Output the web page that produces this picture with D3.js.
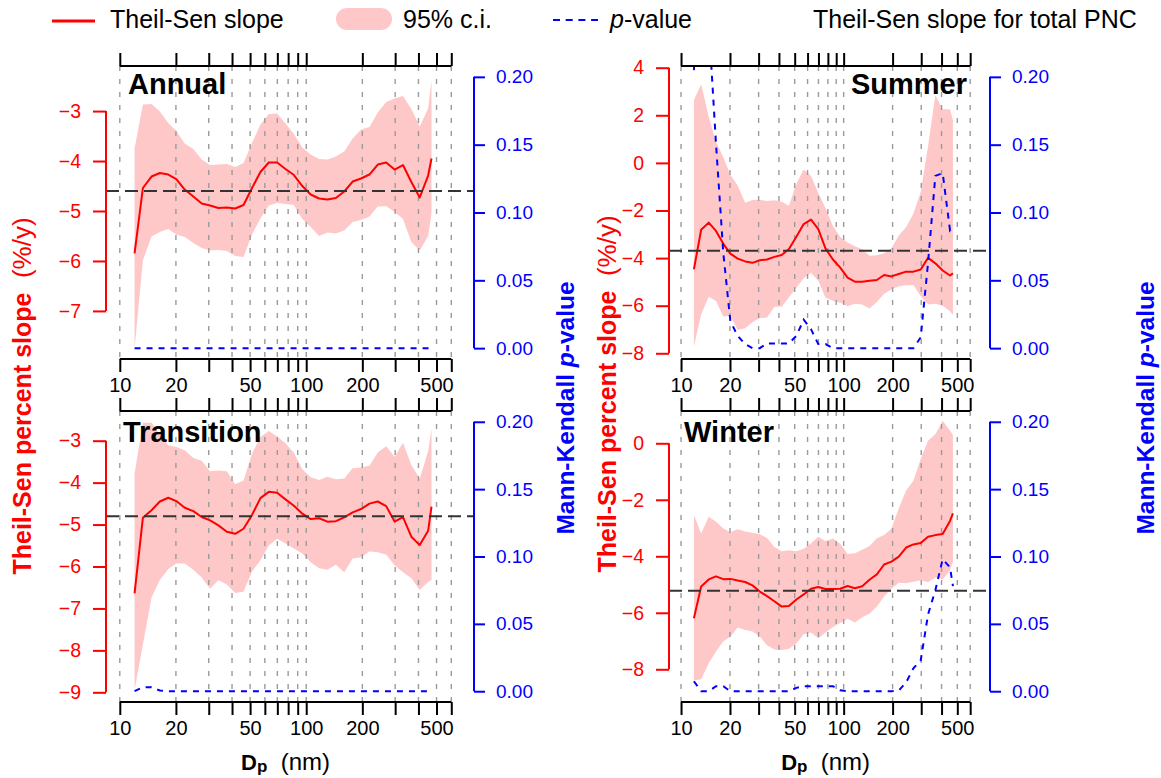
<!DOCTYPE html>
<html>
<head>
<meta charset="utf-8">
<script src="https://cdn.jsdelivr.net/npm/d3@7"></script>
<style>
  body { margin: 0; background: #fff; }
  svg { display: block; font-family: "Liberation Sans", Arial, Helvetica, sans-serif; }
  text { white-space: pre; }
</style>
</head>
<body>
<script>
// Particle diameter bins (nm)
const dp = [12, 13.3, 14.8, 16.4, 18.2, 20.1, 22.3, 24.8, 27.5, 30.5, 33.8, 37.5, 41.6, 46.1, 51.2, 56.8, 63, 69.8, 77.4, 85.9, 95.3, 105.7, 117.2, 130, 144.2, 160, 177.4, 196.8, 218.3, 242.1, 268.5, 297.9, 330.4, 366.4, 406.4, 450.8, 470];

// Annual
const annualSlope = [-5.85, -4.54, -4.31, -4.24, -4.27, -4.36, -4.57, -4.71, -4.85, -4.89, -4.94, -4.93, -4.95, -4.88, -4.54, -4.22, -4.03, -4.03, -4.16, -4.28, -4.50, -4.67, -4.75, -4.77, -4.74, -4.61, -4.41, -4.35, -4.27, -4.07, -4.03, -4.17, -4.08, -4.42, -4.73, -4.29, -3.95];
const annualHi = [-3.75, -2.87, -2.86, -3.01, -3.24, -3.40, -3.65, -3.76, -3.97, -4.08, -4.07, -4.06, -4.12, -4.04, -3.64, -3.27, -3.06, -3.05, -3.25, -3.46, -3.73, -3.87, -3.96, -3.97, -3.91, -3.81, -3.55, -3.37, -3.32, -3.03, -2.82, -2.75, -2.70, -2.96, -3.31, -2.95, -2.38];
const annualLo = [-7.75, -5.99, -5.51, -5.42, -5.36, -5.47, -5.52, -5.64, -5.74, -5.79, -5.78, -5.80, -5.90, -5.92, -5.47, -5.15, -4.89, -4.84, -4.86, -4.88, -5.16, -5.32, -5.50, -5.43, -5.45, -5.39, -5.22, -5.18, -5.11, -4.91, -4.90, -5.02, -5.16, -5.62, -5.79, -5.50, -5.05];
const annualP = [0, 0, 0, 0, 0, 0, 0, 0, 0, 0, 0, 0, 0, 0, 0, 0, 0, 0, 0, 0, 0, 0, 0, 0, 0, 0, 0, 0, 0, 0, 0, 0, 0, 0, 0, 0, 0];

// Summer
const summerSlope = [-4.47, -2.81, -2.51, -2.86, -3.40, -3.81, -4.02, -4.14, -4.20, -4.09, -4.06, -3.95, -3.87, -3.62, -3.10, -2.57, -2.38, -2.78, -3.60, -4.06, -4.40, -4.82, -4.99, -4.99, -4.95, -4.92, -4.71, -4.77, -4.67, -4.57, -4.57, -4.48, -3.99, -4.22, -4.52, -4.73, -4.64];
const summerHi = [2.64, 3.30, 1.94, 0.89, 0.24, -0.50, -0.95, -1.68, -1.56, -1.55, -1.60, -1.57, -1.63, -1.80, -0.88, -0.28, -0.55, -1.27, -1.90, -2.65, -3.11, -3.34, -3.50, -3.63, -3.90, -3.88, -3.80, -3.59, -3.05, -2.70, -2.13, -1.22, 0.70, 2.85, 2.25, 2.25, 1.80];
const summerLo = [-7.72, -6.36, -5.62, -5.80, -6.45, -6.42, -7.02, -6.95, -6.70, -6.52, -6.50, -6.04, -6.04, -5.65, -5.25, -4.85, -4.62, -4.95, -5.67, -5.79, -5.88, -6.02, -5.92, -5.95, -6.12, -5.85, -5.50, -5.32, -5.18, -5.14, -5.13, -5.60, -5.95, -5.92, -6.00, -6.23, -6.39];
const summerP = [0.205, 0.30, 0.24, 0.151, 0.07, 0.020, 0.009, 0.003, 0, 0, 0.0035, 0.0035, 0.0035, 0.0035, 0.009, 0.021, 0.014, 0.003, 0.003, 0, 0, 0, 0, 0, 0, 0, 0, 0, 0, 0, 0, 0.008, 0.063, 0.127, 0.129, 0.087, 0.09];

// Transition
const transitionSlope = [-6.64, -4.84, -4.66, -4.45, -4.36, -4.44, -4.60, -4.68, -4.82, -4.90, -5.02, -5.17, -5.22, -5.10, -4.77, -4.37, -4.22, -4.24, -4.40, -4.55, -4.74, -4.87, -4.85, -4.93, -4.92, -4.83, -4.71, -4.63, -4.50, -4.45, -4.56, -4.93, -4.82, -5.29, -5.49, -5.15, -4.57];
const transitionHi = [-3.78, -2.57, -2.57, -2.85, -3.11, -3.15, -3.23, -3.41, -3.48, -3.73, -3.71, -3.73, -4.04, -3.95, -3.31, -2.91, -2.77, -2.90, -3.06, -3.29, -3.68, -3.87, -3.94, -3.86, -3.92, -3.90, -3.66, -3.64, -3.60, -3.28, -3.13, -3.38, -3.05, -3.58, -3.90, -3.25, -2.71];
const transitionLo = [-8.95, -7.86, -6.74, -6.32, -6.06, -5.93, -5.93, -6.08, -6.26, -6.53, -6.33, -6.43, -6.63, -6.60, -6.12, -5.85, -5.50, -5.34, -5.45, -5.57, -5.69, -5.90, -6.04, -6.08, -5.96, -6.14, -5.81, -5.78, -5.64, -5.66, -5.72, -5.97, -6.14, -6.28, -6.56, -6.37, -6.32];
const transitionP = [0, 0.003, 0.003, 0.0005, 0, 0, 0, 0, 0, 0, 0, 0, 0, 0, 0, 0, 0, 0, 0, 0, 0, 0, 0, 0, 0, 0, 0, 0, 0, 0, 0, 0, 0, 0, 0, 0, 0];

// Winter
const winterSlope = [-6.19, -5.07, -4.82, -4.71, -4.81, -4.80, -4.86, -4.91, -5.03, -5.25, -5.41, -5.59, -5.78, -5.76, -5.53, -5.35, -5.15, -5.09, -5.16, -5.16, -5.15, -5.05, -5.13, -5.06, -4.83, -4.64, -4.29, -4.19, -4.01, -3.69, -3.58, -3.53, -3.31, -3.25, -3.21, -2.75, -2.48];
const winterHi = [-2.54, -3.19, -2.60, -2.78, -3.02, -3.15, -3.04, -3.12, -3.17, -3.22, -3.35, -3.67, -3.82, -3.79, -3.82, -3.73, -3.54, -3.31, -3.47, -3.37, -3.56, -3.92, -3.89, -3.77, -3.64, -3.36, -3.25, -3.02, -2.30, -1.67, -1.33, -0.55, 0.09, 0.32, 0.80, 0.45, 0.29];
const winterLo = [-8.40, -8.35, -7.79, -7.37, -7.01, -6.85, -6.52, -6.61, -6.66, -6.84, -7.15, -7.30, -7.32, -7.27, -7.09, -6.76, -6.70, -6.90, -6.70, -6.50, -6.36, -6.21, -6.34, -6.16, -6.03, -5.78, -5.42, -5.15, -4.94, -4.95, -4.90, -4.85, -4.92, -4.75, -4.82, -4.50, -4.19];
const winterP = [0.0074, 0, 0, 0.0037, 0.0037, 0, 0, 0, 0, 0, 0, 0, 0, 0, 0.0025, 0.0037, 0.0037, 0.0037, 0.0037, 0.0037, 0.0007, 0, 0, 0, 0, 0, 0, 0, 0.0005, 0.0065, 0.017, 0.023, 0.057, 0.075, 0.098, 0.092, 0.078];

// Theil-Sen slope of total PNC: Annual, Summer, Transition, Winter
const totalSlope = [-4.60, -3.69, -4.80, -5.22];

// Tick values
const xTicks = [10, 20, 30, 40, 50, 60, 70, 80, 90, 100, 200, 300, 400, 500, 600];
const xTickLabels = [10, 20, 50, 100, 200, 500];
const annualTicks = [-3, -4, -5, -6, -7];
const summerTicks = [4, 2, 0, -2, -4, -6, -8];
const transitionTicks = [-3, -4, -5, -6, -7, -8, -9];
const winterTicks = [0, -2, -4, -6, -8];
const pTicks = [0, 0.05, 0.10, 0.15, 0.20];

// ---------------------------------------------------------------
const W = 1161, H = 778;
const RED = "#ff0000", BLUE = "#0000ff", PINK = "#ffc8c8", GRID = "#9a9a9a";
const svg = d3.select("body").append("svg").attr("width", W).attr("height", H);

const cols = [{ x0: 106, x1: 474 }, { x0: 669, x1: 990 }];
const rows = [{ y0: 66, y1: 359, title: 94 }, { y0: 411, y1: 702, title: 442 }];
const xDomain = [Math.pow(10, 0.926), Math.pow(10, 2.9)];
const pDomain = [-0.008, 0.208];

const panels = [
  { title: "Annual", c: 0, r: 0, slope: annualSlope, lo: annualLo, hi: annualHi, p: annualP, total: totalSlope[0], yDom: [-7.962, -2.098], yTicks: annualTicks, tx: 128, anchor: "start" },
  { title: "Summer", c: 1, r: 0, slope: summerSlope, lo: summerLo, hi: summerHi, p: summerP, total: totalSlope[1], yDom: [-8.24, 4.071], yTicks: summerTicks, tx: 967, anchor: "end" },
  { title: "Transition", c: 0, r: 1, slope: transitionSlope, lo: transitionLo, hi: transitionHi, p: transitionP, total: totalSlope[2], yDom: [-9.231, -2.292], yTicks: transitionTicks, tx: 123, anchor: "start" },
  { title: "Winter", c: 1, r: 1, slope: winterSlope, lo: winterLo, hi: winterHi, p: winterP, total: totalSlope[3], yDom: [-9.158, 1.143], yTicks: winterTicks, tx: 684, anchor: "start" }
];

function styleAxis(sel, color, size) {
  sel.select(".domain").remove();
  sel.attr("font-family", null).attr("font-size", null);
  sel.selectAll("line").attr("stroke", color).attr("stroke-width", 2);
  sel.selectAll("text").attr("fill", color).style("font-size", size + "px");
}

panels.forEach((P, i) => {
  const C = cols[P.c], R = rows[P.r];
  const x = d3.scaleLog().domain(xDomain).range([C.x0, C.x1]);
  const y = d3.scaleLinear().domain(P.yDom).range([R.y1, R.y0]);
  const yp = d3.scaleLinear().domain(pDomain).range([R.y1, R.y0]);
  const g = svg.append("g");

  const clipId = "plotclip" + i;
  svg.append("clipPath").attr("id", clipId).append("rect")
    .attr("x", C.x0).attr("y", R.y0).attr("width", C.x1 - C.x0).attr("height", R.y1 - R.y0);
  const plot = g.append("g").attr("clip-path", `url(#${clipId})`);

  const recs = dp.map((d, k) => ({ d, s: P.slope[k], lo: P.lo[k], hi: P.hi[k], p: P.p[k] }));

  // 95% confidence band
  plot.append("path").datum(recs)
    .attr("d", d3.area().x(r => x(r.d)).y0(r => y(r.lo)).y1(r => y(r.hi)))
    .attr("fill", PINK);

  // vertical grid at every log tick
  plot.selectAll("line.grid").data(xTicks).join("line").attr("class", "grid")
    .attr("x1", v => x(v)).attr("x2", v => x(v))
    .attr("y1", R.y0).attr("y2", R.y1)
    .attr("stroke", GRID).attr("stroke-width", 1.4).attr("stroke-dasharray", "5,8");

  // Theil-Sen slope
  plot.append("path").datum(recs)
    .attr("d", d3.line().x(r => x(r.d)).y(r => y(r.s)))
    .attr("fill", "none").attr("stroke", RED).attr("stroke-width", 2).attr("stroke-linejoin", "round");

  // slope for total PNC
  plot.append("line")
    .attr("x1", C.x0).attr("x2", C.x1).attr("y1", y(P.total)).attr("y2", y(P.total))
    .attr("stroke", "#333").attr("stroke-width", 2).attr("stroke-dasharray", "13,6");

  // Mann-Kendall p-value
  plot.append("path").datum(recs)
    .attr("d", d3.line().x(r => x(r.d)).y(r => yp(r.p)))
    .attr("fill", "none").attr("stroke", BLUE).attr("stroke-width", 2).attr("stroke-dasharray", "6,6");

  // x axes (top: ticks only, bottom: ticks and labels)
  const xt = g.append("g").attr("transform", `translate(0,${R.y0})`)
    .call(d3.axisTop(x).tickValues(xTicks).tickFormat("").tickSize(13));
  styleAxis(xt, "#000", 20);
  const xb = g.append("g").attr("transform", `translate(0,${R.y1})`)
    .call(d3.axisBottom(x).tickValues(xTicks)
      .tickFormat(v => xTickLabels.includes(v) ? String(v) : "").tickSize(13).tickPadding(6));
  styleAxis(xb, "#000", 20);
  [R.y0, R.y1].forEach(yy => g.append("line")
    .attr("x1", x(10)).attr("x2", x(600)).attr("y1", yy).attr("y2", yy)
    .attr("stroke", "#000").attr("stroke-width", 2));

  // left axis: slope
  const yl = g.append("g").attr("transform", `translate(${C.x0},0)`)
    .call(d3.axisLeft(y).tickValues(P.yTicks).tickFormat(d3.format("d")).tickSize(13).tickPadding(12));
  styleAxis(yl, RED, 19.5);
  g.append("line").attr("x1", C.x0).attr("x2", C.x0)
    .attr("y1", y(d3.max(P.yTicks))).attr("y2", y(d3.min(P.yTicks)))
    .attr("stroke", RED).attr("stroke-width", 2);

  // right axis: p-value
  const yr = g.append("g").attr("transform", `translate(${C.x1},0)`)
    .call(d3.axisRight(yp).tickValues(pTicks).tickFormat(d3.format(".2f")).tickSize(11).tickPadding(11));
  styleAxis(yr, BLUE, 19);
  g.append("line").attr("x1", C.x1).attr("x2", C.x1)
    .attr("y1", yp(0.2)).attr("y2", yp(0))
    .attr("stroke", BLUE).attr("stroke-width", 2);

  // season title
  g.append("text").attr("x", P.tx).attr("y", R.title).attr("text-anchor", P.anchor)
    .style("font-size", "29px").style("font-weight", "bold").text(P.title);

  // x-axis title on the bottom row
  if (P.r === 1) {
    const cx = (x(10) + x(600)) / 2;
    const t = g.append("text").attr("x", cx).attr("y", 770).attr("text-anchor", "middle");
    t.append("tspan").style("font-size", "22px").style("font-weight", "bold").text("D");
    t.append("tspan").style("font-size", "17px").style("font-weight", "bold").attr("dy", 2).text("p");
    t.append("tspan").style("font-size", "24px").attr("dy", -2).text("  (nm)");
  }
});

// vertical axis titles
function yTitle(xBase, yMid, color, parts) {
  const t = svg.append("text").attr("transform", `translate(${xBase},${yMid}) rotate(-90)`)
    .attr("text-anchor", "middle").attr("fill", color);
  parts.forEach(p => t.append("tspan").style("font-size", p.size + "px")
    .style("font-weight", p.bold ? "bold" : "normal").style("font-style", p.italic ? "italic" : "normal").text(p.text));
}
const slopeTitle = [{ text: "Theil-Sen percent slope", size: 25, bold: true }, { text: "  (%/y)", size: 26 }];
const pTitle = [{ text: "Mann-Kendall ", size: 24.5, bold: true }, { text: "p", size: 24.5, bold: true, italic: true }, { text: "-value", size: 24.5, bold: true }];
yTitle(31, 396, RED, slopeTitle);
yTitle(574, 408, BLUE, pTitle);
yTitle(616, 394, RED, slopeTitle);
yTitle(1154, 408, BLUE, pTitle);

// legend
const lg = svg.append("g").style("font-size", "25px");
lg.append("line").attr("x1", 52).attr("x2", 95).attr("y1", 21).attr("y2", 21).attr("stroke", RED).attr("stroke-width", 3);
lg.append("text").attr("x", 110).attr("y", 28).text("Theil-Sen slope");
lg.append("rect").attr("x", 336).attr("y", 8).attr("width", 56).attr("height", 22).attr("rx", 11).attr("fill", PINK);
lg.append("text").attr("x", 403).attr("y", 28).text("95% c.i.");
lg.append("line").attr("x1", 553).attr("x2", 598).attr("y1", 20).attr("y2", 20).attr("stroke", BLUE).attr("stroke-width", 2).attr("stroke-dasharray", "7,5.7");
const pl = lg.append("text").attr("x", 610).attr("y", 28);
pl.append("tspan").style("font-style", "italic").text("p");
pl.append("tspan").text("-value");
lg.append("text").attr("x", 813).attr("y", 28).text("Theil-Sen slope for total PNC");
</script>
</body>
</html>
